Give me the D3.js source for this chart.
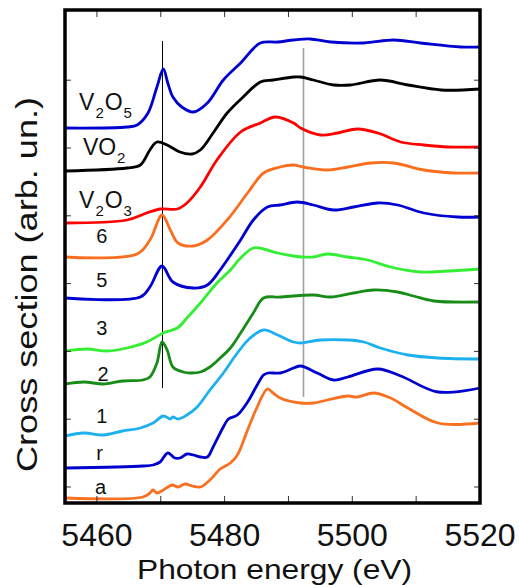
<!DOCTYPE html>
<html>
<head>
<meta charset="utf-8">
<script src="https://cdn.jsdelivr.net/npm/d3@7"></script>
<style>
  body { margin: 0; background: #fff; }
  text { font-family: "Liberation Sans", Arial, sans-serif; fill: #111; }
</style>
</head>
<body>
<svg id="chart"></svg>
<script>
// spectra: energy (eV) and cross section (arb. un.)
const v2o5E = [5455, 5464.7, 5466.3, 5468.0, 5469.4, 5470.4, 5471.1, 5471.9, 5473.3, 5475.1, 5477.3, 5479.8, 5482.5, 5485.6, 5488.3, 5490.8, 5493.4, 5496.6, 5501.8, 5506.5, 5510.7, 5517.0, 5520];
const v2o5Y = [359, 360, 362, 374, 400, 418, 404, 390, 380, 375, 384, 407, 424, 444, 445, 447, 448, 445, 444, 447, 444, 440, 440];

const vo2E = [5455, 5464.7, 5466.8, 5468.3, 5469.4, 5471.0, 5473.0, 5474.9, 5476.2, 5478.2, 5480.4, 5482.9, 5485.6, 5487.6, 5490.8, 5491.9, 5493.9, 5497.1, 5499.7, 5504.4, 5508.7, 5513.9, 5520];
const vo2Y = [316, 319, 322, 337, 345, 342, 335, 333, 337, 354, 374, 390, 405, 407, 410, 410, 407, 402, 402, 407, 402, 397, 398];

const v2o3E = [5455, 5464.7, 5467.8, 5469.9, 5472.6, 5474.1, 5476.2, 5478.8, 5482.5, 5485.6, 5487.9, 5490.8, 5491.9, 5495.0, 5497.7, 5500.8, 5504.0, 5507.6, 5511.2, 5515.0, 5520];
const v2o3Y = [264, 267, 274, 278, 278, 284, 300, 327, 355, 364, 370, 364, 359, 352, 354, 358, 354, 345, 342, 340, 340];

const s6E = [5455, 5466.3, 5468.3, 5470.2, 5471.5, 5472.7, 5475.1, 5477.3, 5480.4, 5483.6, 5486.1, 5488.7, 5490.8, 5492.3, 5496.1, 5499.3, 5502.9, 5506.5, 5511.2, 5515.9, 5520];
const s6Y = [230, 233, 247, 272, 257, 244, 241, 247, 267, 294, 314, 320, 322, 320, 317, 320, 324, 324, 317, 314, 314];

const s5E = [5455, 5466.8, 5468.3, 5470.2, 5471.9, 5475.1, 5477.3, 5479.3, 5480.4, 5482.5, 5484.5, 5486.7, 5488.7, 5491.4, 5493.9, 5497.1, 5500.2, 5504.0, 5507.1, 5511.2, 5516.5, 5520];
const s5Y = [189, 190, 200, 221, 205, 199, 202, 217, 227, 247, 267, 280, 282, 285, 282, 277, 280, 284, 282, 274, 270, 270];

const s3E = [5455, 5458.5, 5461.6, 5464.7, 5467.8, 5470.4, 5472.6, 5474.1, 5476.2, 5478.8, 5480.9, 5482.5, 5484.5, 5486.1, 5488.3, 5490.8, 5492.3, 5493.9, 5496.1, 5499.3, 5502.4, 5506.0, 5510.7, 5515.0, 5520];
const s3Y = [136, 138, 136, 139, 145, 154, 159, 169, 184, 204, 217, 229, 239, 238, 234, 231, 230, 230, 233, 230, 227, 220, 215, 216, 218];

const s2E = [5455, 5458.0, 5461.0, 5464.0, 5467.2, 5468.3, 5469.4, 5470.2, 5471.0, 5471.9, 5473.5, 5474.6, 5476.2, 5477.7, 5479.3, 5480.9, 5482.5, 5484.5, 5486.1, 5488.7, 5493.9, 5496.6, 5500.2, 5503.3, 5507.1, 5509.6, 5512.8, 5520];
const s2Y = [103, 105, 103, 106, 107, 110, 124, 145, 137, 120, 115, 114, 115, 120, 129, 139, 154, 174, 189, 190, 192, 190, 194, 197, 195, 191, 186, 185];

const s1E = [5455, 5458.0, 5461.0, 5464.0, 5466.8, 5468.8, 5470.4, 5471.5, 5471.9, 5472.7, 5474.1, 5475.7, 5477.7, 5479.8, 5482.0, 5484.0, 5486.1, 5488.3, 5490.8, 5491.9, 5495.0, 5499.3, 5501.8, 5504.4, 5508.7, 5513.4, 5520];
const s1Y = [51, 54, 52, 56, 59, 64, 71, 68, 70, 68, 72, 80, 97, 114, 134, 149, 157, 152, 145, 144, 147, 147, 145, 139, 132, 129, 128];

const rE = [5455, 5467.2, 5468.8, 5469.9, 5471.1, 5472.2, 5473.0, 5474.1, 5475.1, 5476.2, 5477.3, 5478.2, 5479.8, 5480.6, 5482.0, 5483.6, 5485.1, 5486.1, 5486.8, 5488.7, 5490.8, 5491.9, 5494.5, 5497.1, 5499.3, 5504.0, 5507.6, 5513.4, 5520];
const rY = [19, 21, 22, 25, 34, 29, 29, 33, 32, 30, 30, 40, 60, 68, 72, 85, 102, 112, 114, 114, 119, 121, 114, 107, 110, 118, 111, 95, 99];

const aE = [5455, 5467.2, 5468.3, 5468.8, 5469.4, 5470.4, 5471.8, 5472.7, 5473.8, 5474.9, 5476.2, 5477.7, 5479.3, 5480.9, 5482.0, 5483.6, 5485.1, 5486.7, 5487.6, 5488.7, 5491.9, 5493.9, 5496.1, 5499.3, 5500.8, 5503.3, 5506.0, 5508.7, 5513.4, 5520];
const aY = [-11, -10, -6, -3, -6, -3, 2, 0, 3, 1, 0, 7, 18, 24, 32, 57, 80, 98, 94, 89, 84, 84, 87, 91, 90, 94, 89, 79, 64, 64];

const seriesNames = ["V2O5", "VO2", "V2O3", "6", "5", "3", "2", "1", "r", "a"];
const seriesE = [v2o5E, vo2E, v2o3E, s6E, s5E, s3E, s2E, s1E, rE, aE];
const seriesY = [v2o5Y, vo2Y, v2o3Y, s6Y, s5Y, s3Y, s2Y, s1Y, rY, aY];
const seriesColors = ["#0000d0", "#000000", "#ff0000", "#fa6e1e", "#0000d0", "#33ee33", "#178c17", "#1cb0ee", "#0000cc", "#f87020"];

// label text: [text, "sub"?] pieces, anchored at (energy, value)
const labelParts = [
  [["V", ""], ["2", "sub"], ["O", ""], ["5", "sub"]],
  [["VO", ""], ["2", "sub"]],
  [["V", ""], ["2", "sub"], ["O", ""], ["3", "sub"]],
  [["6", ""]], [["5", ""]], [["3", ""]], [["2", ""]], [["1", ""]], [["r", ""]], [["a", ""]]
];
const labelE = [5457.2, 5457.8, 5457.2, 5459.9, 5459.9, 5459.9, 5460.1, 5459.9, 5459.9, 5459.7];
const labelY = [377, 332, 279, 244, 200, 152, 106, 64, 27, -7];

// vertical guide lines
const guideE = [5470.2, 5492.2];
const guideTop = [446, 439];
const guideBottom = [99, 90];

const xTicks = [5460, 5480, 5500, 5520];
const xMinor = [5460, 5470, 5480, 5490, 5500, 5510];
const yTicks = [0, 1, 2, 3, 4, 5, 6].map(d => d * 67.8);

const width = 519, height = 585;
const margin = { top: 10, right: 39, bottom: 82, left: 65 };

const svg = d3.select("#chart").attr("width", width).attr("height", height);

const x = d3.scaleLinear().domain([5455, 5520]).range([margin.left, width - margin.right]);
const y = d3.scaleLinear().domain([-16, 477]).range([height - margin.bottom, margin.top]);

// guide lines
guideE.forEach((e, i) => {
  svg.append("line")
    .attr("x1", Math.round(x(e)) + 0.5).attr("x2", Math.round(x(e)) + 0.5)
    .attr("y1", y(guideTop[i])).attr("y2", y(guideBottom[i]))
    .attr("stroke", i === 0 ? "#000" : "#a0a0a0")
    .attr("stroke-width", i === 0 ? 1 : 1.6);
});

// spectra
const line = d3.line()
  .x(d => x(d[0]))
  .y(d => y(d[1]))
  .curve(d3.curveCatmullRom.alpha(0.5));

seriesNames.forEach((name, i) => {
  const pts = seriesE[i].map((e, j) => [e, seriesY[i][j]]);
  svg.append("path")
    .datum(pts)
    .attr("d", line)
    .attr("fill", "none")
    .attr("stroke", seriesColors[i])
    .attr("stroke-width", 2.8)
    .attr("stroke-linejoin", "round");
});

// curve labels
labelParts.forEach((parts, i) => {
  const big = i < 3 ? 23 : 20;
  const t = svg.append("text")
    .attr("x", x(labelE[i]))
    .attr("y", y(labelY[i]))
    .style("font-size", big + "px");
  parts.forEach(p => {
    const first = t.selectAll("tspan").size() === 0;
    if (p[1] === "sub") {
      t.append("tspan").text(p[0]).attr("dy", 8).attr("dx", 1).style("font-size", "15px");
    } else {
      t.append("tspan").text(p[0]).attr("dy", first ? 0 : -8).attr("dx", first ? 0 : 1);
    }
  });
});

// ticks (inside, all four sides)
const ax = svg.append("g").attr("stroke", "#333").attr("stroke-width", 1);
xMinor.forEach(t => {
  ax.append("line").attr("x1", x(t)).attr("x2", x(t)).attr("y1", y.range()[1]).attr("y2", y.range()[1] + 7);
  ax.append("line").attr("x1", x(t)).attr("x2", x(t)).attr("y1", y.range()[0]).attr("y2", y.range()[0] - 7);
});
yTicks.forEach(t => {
  ax.append("line").attr("x1", x.range()[0]).attr("x2", x.range()[0] + 6).attr("y1", y(t)).attr("y2", y(t));
  ax.append("line").attr("x1", x.range()[1]).attr("x2", x.range()[1] - 6).attr("y1", y(t)).attr("y2", y(t));
});

// frame
svg.append("rect")
  .attr("x", x.range()[0]).attr("y", y.range()[1])
  .attr("width", x.range()[1] - x.range()[0])
  .attr("height", y.range()[0] - y.range()[1])
  .attr("fill", "none").attr("stroke", "#000").attr("stroke-width", 3.5);

// tick labels
svg.selectAll(".xt").data(xTicks).enter().append("text")
  .attr("class", "xt")
  .attr("x", d => x(d))
  .attr("y", 546)
  .attr("text-anchor", "middle")
  .style("font-size", "32px")
  .text(d => d);

// axis titles
svg.append("text")
  .attr("x", 274.5).attr("y", 579)
  .attr("text-anchor", "middle")
  .attr("textLength", 275).attr("lengthAdjust", "spacingAndGlyphs")
  .style("font-size", "28px")
  .text("Photon energy (eV)");

svg.append("text")
  .attr("transform", "translate(37,284.5) rotate(-90)")
  .attr("text-anchor", "middle")
  .attr("textLength", 375).attr("lengthAdjust", "spacingAndGlyphs")
  .style("font-size", "29px")
  .text("Cross section (arb. un.)");
</script>
</body>
</html>
